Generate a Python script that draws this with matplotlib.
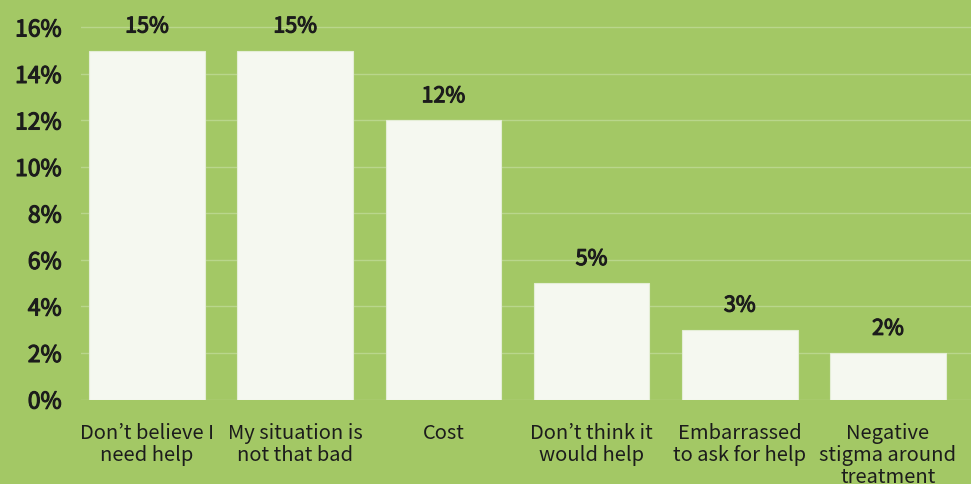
import matplotlib.pyplot as plt
import matplotlib.patheffects as pe
from matplotlib.ticker import FuncFormatter

plt.rcParams['font.family'] = ['Noto Sans CJK JP', 'DejaVu Sans']

reasons = [
    "Don\u2019t believe I\nneed help",
    "My situation is\nnot that bad",
    "Cost",
    "Don\u2019t think it\nwould help",
    "Embarrassed\nto ask for help",
    "Negative\nstigma around\ntreatment",
]
shares = [15, 15, 12, 5, 3, 2]
y_ticks = [0, 2, 4, 6, 8, 10, 12, 14, 16]

bg = '#a3c865'
bar_color = '#f5f8f0'
text_color = '#1c1c1c'
# thin stroke gives the regular face a medium weight
heavier = [pe.withStroke(linewidth=0.8, foreground=text_color)]

fig = plt.figure(figsize=(9.71, 4.84), dpi=100, facecolor=bg)
ax = fig.add_axes([81 / 971, (484 - 399.5) / 484, (971 - 81) / 971, 399.5 / 484])
ax.set_facecolor(bg)

x = range(len(reasons))
bars = ax.bar(x, shares, width=0.78, color=bar_color, edgecolor='#e4eed6',
              linewidth=0.8, zorder=3)

for b, v in zip(bars, shares):
    ax.annotate(f"{v}%", (b.get_x() + b.get_width() / 2, v),
                xytext=(0, 9.5), textcoords='offset points',
                ha='center', va='bottom', fontsize=15.5,
                color=text_color, path_effects=heavier)

ax.set_xlim(-0.445, 5.56)
ax.set_ylim(0, 17.18)
ax.set_yticks(y_ticks)
ax.yaxis.set_major_formatter(FuncFormatter(lambda v, _: f"{v:.0f}%"))
ax.set_xticks(list(x))
ax.set_xticklabels(reasons, linespacing=1.05)

ax.grid(axis='y', color='#b9d68c', linewidth=1, zorder=0)
ax.tick_params(axis='y', length=0, pad=14, labelsize=16.5, labelcolor=text_color)
ax.tick_params(axis='x', length=0, pad=17, labelsize=14.5, labelcolor=text_color)
for lbl in ax.get_yticklabels():
    lbl.set_path_effects(heavier)
for s in ax.spines.values():
    s.set_visible(False)

fig.savefig('out.png', dpi=100, facecolor=bg)
